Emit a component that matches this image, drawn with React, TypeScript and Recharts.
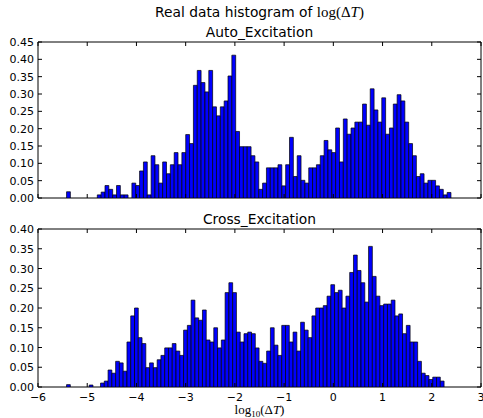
import React from 'react';
import { BarChart, Bar, XAxis, YAxis, ReferenceArea } from 'recharts';

// histogram bins (100 per panel), left edge of first bin and bin widths
const binStart = -5.42;
const autoBinWidth = 0.0781;
const crossBinWidth = 0.0767;

const autoHeights = [
  0.018, 0, 0, 0, 0, 0, 0, 0, 0.009, 0.017,
  0.036, 0.025, 0.009, 0.036, 0.009, 0.009, 0, 0.043, 0.036, 0.078,
  0.104, 0.009, 0.122, 0.096, 0.043, 0.104, 0.07, 0.096, 0.131, 0.096,
  0.131, 0.183, 0.157, 0.325, 0.368, 0.333, 0.306, 0.368, 0.263, 0.237,
  0.263, 0.28, 0.352, 0.412, 0.192, 0.148, 0.148, 0.148, 0.122, 0.104,
  0.025, 0.043, 0.087, 0.087, 0.087, 0.096, 0.035, 0.096, 0.175, 0.062,
  0.122, 0.051, 0.043, 0.087, 0.087, 0.096, 0.122, 0.166, 0.139, 0.131,
  0.202, 0.104, 0.228, 0.184, 0.202, 0.219, 0.219, 0.271, 0.21, 0.315,
  0.254, 0.219, 0.289, 0.184, 0.202, 0.271, 0.298, 0.28, 0.219, 0.157,
  0.122, 0.062, 0.07, 0.043, 0.051, 0.051, 0.035, 0.025, 0.009, 0.016,
];

const crossHeights = [
  0.006, 0, 0, 0, 0, 0, 0.005, 0, 0, 0.01,
  0.015, 0.043, 0.035, 0.065, 0.061, 0.04, 0.114, 0.18, 0.2, 0.125,
  0.11, 0.049, 0.061, 0.049, 0.069, 0.08, 0.099, 0.099, 0.11, 0.091,
  0.08, 0.144, 0.156, 0.22, 0.175, 0.169, 0.195, 0.119, 0.114, 0.15,
  0.099, 0.119, 0.239, 0.264, 0.239, 0.139, 0.114, 0.135, 0.139, 0.135,
  0.099, 0.065, 0.06, 0.091, 0.15, 0.106, 0.08, 0.156, 0.156, 0.114,
  0.139, 0.091, 0.164, 0.144, 0.125, 0.18, 0.2, 0.2, 0.206, 0.23,
  0.259, 0.239, 0.245, 0.2, 0.23, 0.29, 0.334, 0.295, 0.264, 0.215,
  0.356, 0.28, 0.23, 0.206, 0.21, 0.21, 0.22, 0.18, 0.185, 0.135,
  0.156, 0.114, 0.114, 0.065, 0.035, 0.029, 0.019, 0.025, 0.025, 0.015,
];

const xTicks = [-6, -5, -4, -3, -2, -1, 0, 1, 2, 3];
const autoYTicks = [0, 0.05, 0.1, 0.15, 0.2, 0.25, 0.3, 0.35, 0.4, 0.45];
const crossYTicks = [0, 0.05, 0.1, 0.15, 0.2, 0.25, 0.3, 0.35, 0.4];

const W = 483;
const LEFT = 38;
const RIGHT = 2;
const PX_PER_UNIT = (W - LEFT - RIGHT) / 9;
const TICK = 4;
const SANS = '"DejaVu Sans", sans-serif';
const SERIF = '"Liberation Serif", "DejaVu Serif", serif';

const toBins = (heights: number[], width: number) =>
  heights.map((v, i) => ({ x: binStart + (i + 0.5) * width, v }));

const fmtX = (v: number) => (v < 0 ? '\u2212' + Math.abs(v) : String(v));

function Hist({ data, binWidth, yTicks, yMax, height, top, bottom, xLabels }: any) {
  const tickText = { fontSize: 11, fontFamily: SANS, fill: '#000' };
  return (
    <BarChart
      width={W}
      height={height}
      data={data}
      margin={{ top: top - 1, right: RIGHT - 1, bottom: bottom - 1, left: 0 }}
      barCategoryGap={0}
      barGap={0}
    >
      <XAxis
        xAxisId="b"
        dataKey="x"
        type="number"
        domain={[-6, 3]}
        ticks={xTicks}
        interval={0}
        allowDataOverflow
        height={1}
        tickSize={0}
        tickMargin={0}
        tickLine={false}
        axisLine={false}
        tick={(p: any) => (
          <g>
            <line x1={p.x} y1={p.y} x2={p.x} y2={p.y - TICK} stroke="#000" />
            {xLabels && (
              <text x={p.x} y={p.y + 13.5} textAnchor="middle" {...tickText}>
                {fmtX(p.payload.value)}
              </text>
            )}
          </g>
        )}
      />
      <XAxis
        xAxisId="t"
        orientation="top"
        dataKey="x"
        type="number"
        domain={[-6, 3]}
        ticks={xTicks}
        interval={0}
        allowDataOverflow
        height={1}
        tickSize={0}
        tickMargin={0}
        tickLine={false}
        axisLine={false}
        tick={(p: any) => <line x1={p.x} y1={p.y} x2={p.x} y2={p.y + TICK} stroke="#000" />}
      />
      <YAxis
        yAxisId="l"
        domain={[0, yMax]}
        ticks={yTicks}
        interval={0}
        allowDataOverflow
        width={LEFT}
        tickSize={0}
        tickMargin={0}
        tickLine={false}
        axisLine={false}
        tick={(p: any) => (
          <g>
            <line x1={p.x} y1={p.y} x2={p.x + TICK} y2={p.y} stroke="#000" />
            <text x={p.x - 4} y={p.y + 4} textAnchor="end" {...tickText}>
              {p.payload.value.toFixed(2)}
            </text>
          </g>
        )}
      />
      <YAxis
        yAxisId="r"
        orientation="right"
        domain={[0, yMax]}
        ticks={yTicks}
        interval={0}
        allowDataOverflow
        width={1}
        tickSize={0}
        tickMargin={0}
        tickLine={false}
        axisLine={false}
        tick={(p: any) => <line x1={p.x} y1={p.y} x2={p.x - TICK} y2={p.y} stroke="#000" />}
      />
      <Bar
        xAxisId="b"
        yAxisId="l"
        dataKey="v"
        fill="#0000ff"
        stroke="#000"
        strokeWidth={0.7}
        barSize={binWidth * PX_PER_UNIT - 0.01}
        isAnimationActive={false}
      />
      <ReferenceArea
        xAxisId="b"
        yAxisId="l"
        x1={-6}
        x2={3}
        y1={0}
        y2={yMax}
        fill="none"
        fillOpacity={0}
        stroke="#000"
        strokeWidth={1}
        ifOverflow="visible"
      />
    </BarChart>
  );
}

export default function App() {
  const autoData = toBins(autoHeights, autoBinWidth);
  const crossData = toBins(crossHeights, crossBinWidth);
  const cx = LEFT + (W - LEFT - RIGHT) / 2;
  return (
    <div style={{ position: 'absolute', left: 0, top: 0, width: W, height: 418, background: '#fff' }}>
      <div style={{ position: 'absolute', left: 0, top: 0 }}>
        <Hist data={autoData} binWidth={autoBinWidth} yTicks={autoYTicks} yMax={0.45} height={210} top={42} bottom={12} xLabels={false} />
      </div>
      <div style={{ position: 'absolute', left: 0, top: 200 }}>
        <Hist data={crossData} binWidth={crossBinWidth} yTicks={crossYTicks} yMax={0.4} height={218} top={29} bottom={31} xLabels />
      </div>
      <svg width={W} height={418} style={{ position: 'absolute', left: 0, top: 0, pointerEvents: 'none' }}>
        <text x={cx} y={17} textAnchor="middle" fontSize={13.8} fontFamily={SANS} fill="#000">
          Real data histogram of{' '}
          <tspan fontFamily={SERIF} fontSize={15}>log(Δ</tspan>
          <tspan fontFamily={SERIF} fontSize={15} fontStyle="italic">T</tspan>
          <tspan fontFamily={SERIF} fontSize={15}>)</tspan>
        </text>
        <text x={cx} y={36.5} textAnchor="middle" fontSize={13.8} fontFamily={SANS} fill="#000">
          Auto_Excitation
        </text>
        <text x={cx} y={223.5} textAnchor="middle" fontSize={13.8} fontFamily={SANS} fill="#000">
          Cross_Excitation
        </text>
        <text x={cx} y={414} textAnchor="middle" fontSize={13} fontFamily={SERIF} fill="#000">
          log
          <tspan fontSize={9} dy={3}>10</tspan>
          <tspan dy={-3}>(Δ</tspan>
          <tspan fontStyle="italic">T</tspan>
          <tspan>)</tspan>
        </text>
      </svg>
    </div>
  );
}
